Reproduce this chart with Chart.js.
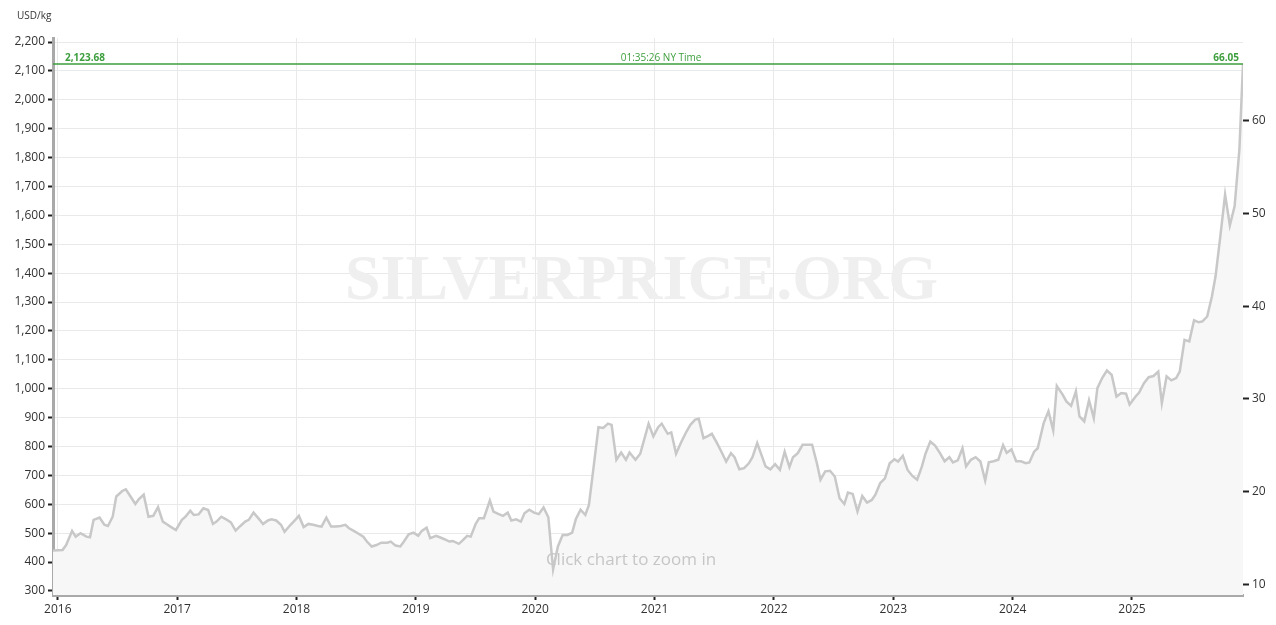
<!DOCTYPE html>
<html>
<head>
<meta charset="utf-8">
<script src="https://cdn.jsdelivr.net/npm/chart.js@4.4.1/dist/chart.umd.min.js"></script>
<style>
  html, body { margin: 0; padding: 0; background: #fff; }
  #wrap { width: 1276px; height: 625px; }
</style>
</head>
<body>
<div id="wrap"><canvas id="silverChart" width="1276" height="625"></canvas></div>
<script>
// --- DATA ---
const dates = [
  2015.96, 2016.04, 2016.07, 2016.12, 2016.15, 2016.19, 2016.24, 2016.27, 2016.30, 2016.35,
  2016.39, 2016.42, 2016.46, 2016.49, 2016.54, 2016.57, 2016.60, 2016.65, 2016.68, 2016.72,
  2016.76, 2016.80, 2016.84, 2016.88, 2016.92, 2016.95, 2016.99, 2017.04, 2017.07, 2017.11,
  2017.14, 2017.18, 2017.22, 2017.26, 2017.30, 2017.33, 2017.37, 2017.41, 2017.45, 2017.49,
  2017.53, 2017.57, 2017.60, 2017.64, 2017.68, 2017.72, 2017.76, 2017.79, 2017.83, 2017.87,
  2017.90, 2017.95, 2017.99, 2018.02, 2018.06, 2018.10, 2018.14, 2018.18, 2018.21, 2018.25,
  2018.29, 2018.33, 2018.37, 2018.41, 2018.44, 2018.48, 2018.52, 2018.56, 2018.59, 2018.63,
  2018.67, 2018.71, 2018.76, 2018.79, 2018.83, 2018.87, 2018.90, 2018.94, 2018.98, 2019.02,
  2019.05, 2019.09, 2019.12, 2019.17, 2019.20, 2019.24, 2019.28, 2019.31, 2019.36, 2019.39,
  2019.43, 2019.46, 2019.50, 2019.53, 2019.57, 2019.62, 2019.65, 2019.69, 2019.73, 2019.77,
  2019.80, 2019.84, 2019.88, 2019.91, 2019.95, 2019.99, 2020.03, 2020.07, 2020.11, 2020.15,
  2020.19, 2020.23, 2020.27, 2020.31, 2020.34, 2020.38, 2020.42, 2020.45, 2020.49, 2020.53,
  2020.57, 2020.61, 2020.64, 2020.68, 2020.72, 2020.76, 2020.79, 2020.84, 2020.88, 2020.95,
  2020.99, 2021.03, 2021.06, 2021.11, 2021.14, 2021.18, 2021.22, 2021.26, 2021.30, 2021.34,
  2021.37, 2021.41, 2021.45, 2021.48, 2021.52, 2021.56, 2021.60, 2021.64, 2021.67, 2021.71,
  2021.75, 2021.79, 2021.82, 2021.86, 2021.90, 2021.93, 2021.97, 2022.01, 2022.05, 2022.09,
  2022.13, 2022.16, 2022.20, 2022.24, 2022.28, 2022.32, 2022.36, 2022.39, 2022.43, 2022.47,
  2022.51, 2022.55, 2022.59, 2022.62, 2022.66, 2022.70, 2022.74, 2022.78, 2022.82, 2022.85,
  2022.89, 2022.93, 2022.97, 2023.01, 2023.04, 2023.08, 2023.12, 2023.16, 2023.20, 2023.24,
  2023.27, 2023.31, 2023.35, 2023.39, 2023.43, 2023.47, 2023.50, 2023.54, 2023.58, 2023.61,
  2023.65, 2023.69, 2023.73, 2023.77, 2023.80, 2023.84, 2023.88, 2023.92, 2023.95, 2023.99,
  2024.03, 2024.07, 2024.11, 2024.14, 2024.18, 2024.21, 2024.26, 2024.30, 2024.34, 2024.37,
  2024.42, 2024.45, 2024.49, 2024.53, 2024.56, 2024.60, 2024.64, 2024.68, 2024.71, 2024.75,
  2024.79, 2024.83, 2024.87, 2024.91, 2024.95, 2024.98, 2025.03, 2025.06, 2025.10, 2025.14,
  2025.18, 2025.22, 2025.25, 2025.29, 2025.33, 2025.37, 2025.40, 2025.44, 2025.48, 2025.52,
  2025.56, 2025.59, 2025.63, 2025.67, 2025.70, 2025.74, 2025.78, 2025.82, 2025.86, 2025.90,
  2025.93
];
const pricesKg = [
  440, 442, 459, 508, 488, 500, 488, 486, 546, 554,
  529, 525, 557, 627, 646, 652, 633, 601, 618, 633,
  557, 560, 590, 540, 529, 521, 511, 546, 557, 578,
  563, 565, 586, 580, 532, 540, 557, 548, 537, 509,
  525, 540, 546, 571, 552, 532, 544, 548, 544, 529,
  505, 529, 546, 560, 521, 532, 529, 525, 523, 554,
  523, 523, 525, 529, 517, 508, 498, 488, 471, 454,
  459, 467, 467, 471, 457, 454, 471, 496, 502, 491,
  508, 519, 483, 491, 486, 479, 471, 473, 463, 474,
  491, 488, 531, 552, 552, 613, 575, 567, 560, 571,
  544, 548, 540, 569, 581, 571, 566, 589, 555, 375,
  454, 494, 494, 502, 548, 581, 563, 598, 731, 867,
  864, 879, 875, 754, 779, 754, 779, 754, 775, 879,
  835, 867, 879, 844, 849, 775, 812, 846, 875, 893,
  896, 829, 837, 844, 814, 782, 748, 777, 763, 721,
  725, 742, 763, 812, 766, 731, 721, 739, 719, 782,
  729, 763, 777, 806, 806, 806, 742, 685, 714, 716,
  696, 621, 601, 641, 636, 575, 629, 606, 615, 633,
  673, 690, 742, 756, 748, 768, 719, 698, 685, 731,
  775, 817, 803, 778, 749, 763, 745, 752, 794, 731,
  754, 763, 748, 682, 745, 749, 754, 805, 778, 790,
  749, 749, 742, 745, 782, 794, 881, 922, 856, 1010,
  979, 956, 941, 991, 904, 887, 960, 898, 1002, 1037,
  1063, 1048, 973, 985, 983, 945, 973, 987, 1019, 1040,
  1044, 1059, 950, 1043, 1029, 1037, 1059, 1169, 1164, 1237,
  1230, 1233, 1250, 1320, 1389, 1527, 1672, 1565, 1632, 1829,
  2123.68
];
const yearTicks = [2016, 2017, 2018, 2019, 2020, 2021, 2022, 2023, 2024, 2025];
const kgTicks = [300, 400, 500, 600, 700, 800, 900, 1000, 1100, 1200, 1300, 1400,
                 1500, 1600, 1700, 1800, 1900, 2000, 2100, 2200];
const ozTicks = [10, 20, 30, 40, 50, 60];
const spotKg = 2123.68;
const spotOz = 66.05;
const spotTime = '01:35:26 NY Time';

const OZ_PER_KG = 32.1507;
const Y_MIN = 286, Y_MAX = 2214;
const X_MIN = 2015.96, X_MAX = 2025.93;
const FONT = "'Open Sans', 'Noto Sans', sans-serif";
const GREEN = '#3d9e3d';

// --- PLUGIN: watermark, spot line, texts ---
const decorations = {
  id: 'decorations',
  beforeDatasetsDraw(chart) {
    const { ctx, chartArea } = chart;
    ctx.save();
    ctx.fillStyle = '#efefef';
    ctx.textAlign = 'left';
    ctx.textBaseline = 'alphabetic';
    let size = 64;
    ctx.font = `bold ${size}px 'Liberation Serif', 'DejaVu Serif', serif`;
    const w = ctx.measureText('SILVERPRICE.ORG').width;
    size = size * 593 / w;
    ctx.font = `bold ${size}px 'Liberation Serif', 'DejaVu Serif', serif`;
    ctx.fillText('SILVERPRICE.ORG', chartArea.left + 292, 299);
    ctx.restore();
  },
  afterDatasetsDraw(chart) {
    const { ctx, chartArea, scales } = chart;
    const y = scales.y.getPixelForValue(spotKg);
    ctx.save();
    // spot line
    ctx.strokeStyle = GREEN;
    ctx.lineWidth = 1.5;
    ctx.beginPath();
    ctx.moveTo(chartArea.left, y);
    ctx.lineTo(chartArea.right, y);
    ctx.stroke();
    ctx.fillStyle = GREEN;
    ctx.textBaseline = 'alphabetic';
    ctx.font = `bold 10px ${FONT}`;
    ctx.textAlign = 'left';
    ctx.fillText(spotKg.toLocaleString('en-US', { minimumFractionDigits: 2 }), chartArea.left + 12, y - 3);
    ctx.textAlign = 'right';
    ctx.fillText(spotOz.toFixed(2), chartArea.right - 4, y - 3);
    ctx.font = `10px ${FONT}`;
    ctx.textAlign = 'center';
    ctx.fillText(spotTime, chartArea.left + chartArea.width * 0.511, y - 3);
    // zoom hint
    ctx.fillStyle = '#c6c6c6';
    ctx.font = `17px ${FONT}`;
    ctx.fillText('Click chart to zoom in', chartArea.left + 578, 565);
    ctx.restore();
  },
  afterDraw(chart) {
    const { ctx } = chart;
    ctx.save();
    ctx.fillStyle = '#333';
    ctx.font = `10px ${FONT}`;
    ctx.textAlign = 'left';
    ctx.textBaseline = 'middle';
    ctx.fillText('USD/kg', 17, 16);
    ctx.restore();
  }
};

const ctx = document.getElementById('silverChart').getContext('2d');
new Chart(ctx, {
  type: 'line',
  data: {
    datasets: [{
      data: dates.map((d, i) => ({ x: d, y: pricesKg[i] })),
      borderColor: '#c8c8c8',
      backgroundColor: '#f7f7f7',
      borderWidth: 2.5,
      fill: 'start',
      tension: 0,
      pointRadius: 0,
      yAxisID: 'y'
    }]
  },
  options: {
    responsive: false,
    animation: false,
    devicePixelRatio: 1,
    layout: { padding: { top: 38, left: 0, right: 0, bottom: 0 } },
    plugins: { legend: { display: false }, tooltip: { enabled: false } },
    scales: {
      x: {
        type: 'linear',
        min: X_MIN, max: X_MAX,
        afterBuildTicks: s => { s.ticks = yearTicks.map(v => ({ value: v })); },
        afterFit: s => { s.height = 30; },
        grid: { color: '#e9e9e9', tickColor: '#222', tickLength: 5, tickWidth: 2 },
        border: { color: '#a9a9a9', width: 3 },
        ticks: { color: '#333', font: { family: FONT, size: 12 }, padding: 2, maxRotation: 0,
                 callback: v => String(v) }
      },
      y: {
        position: 'left',
        min: Y_MIN, max: Y_MAX,
        afterBuildTicks: s => { s.ticks = kgTicks.map(v => ({ value: v })); },
        afterFit: s => { s.width = 53; },
        grid: { color: '#e9e9e9', tickColor: '#222', tickLength: 5, tickWidth: 2 },
        border: { color: '#a9a9a9', width: 3 },
        ticks: { color: '#333', font: { family: FONT, size: 12 }, padding: 3,
                 callback: v => v.toLocaleString('en-US') }
      },
      y2: {
        position: 'right',
        min: Y_MIN / OZ_PER_KG, max: Y_MAX / OZ_PER_KG,
        afterBuildTicks: s => { s.ticks = ozTicks.map(v => ({ value: v })); },
        afterFit: s => { s.width = 33; },
        grid: { drawOnChartArea: false, tickColor: '#222', tickLength: 6, tickWidth: 2 },
        border: { display: false },
        ticks: { color: '#333', font: { family: FONT, size: 12 }, padding: 3 }
      }
    }
  },
  plugins: [decorations]
});
</script>
</body>
</html>
